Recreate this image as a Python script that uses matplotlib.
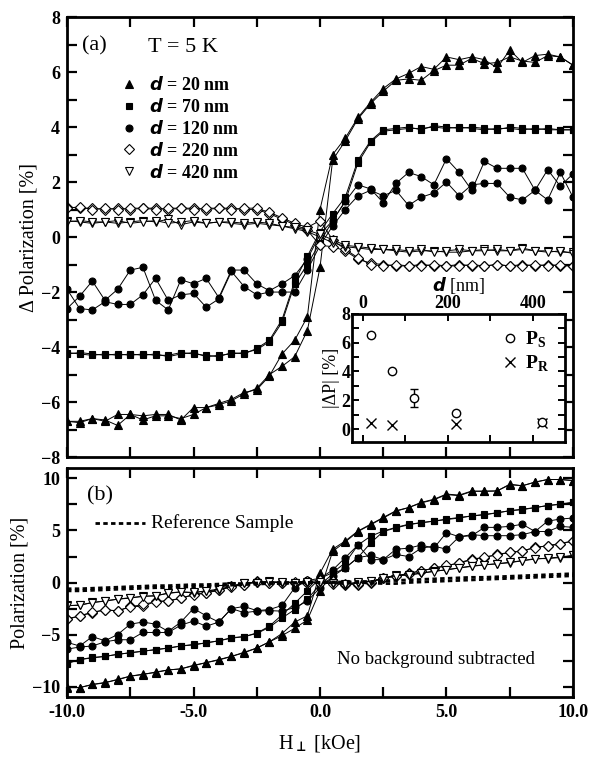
import numpy as np
import matplotlib
matplotlib.use("Agg")
import matplotlib.pyplot as plt
from matplotlib.lines import Line2D
from matplotlib.ticker import MultipleLocator

plt.rcParams['font.family'] = ['Liberation Serif', 'DejaVu Serif']
plt.rcParams['font.weight'] = 'bold'
plt.rcParams['mathtext.fontset'] = 'custom'
plt.rcParams['mathtext.rm'] = 'Liberation Serif'
plt.rcParams['mathtext.it'] = 'DejaVu Sans:italic:bold'
plt.rcParams['mathtext.bf'] = 'Liberation Serif:bold'

# field sweep, kOe (0.5 kOe steps)
field = np.arange(-10, 10.01, 0.5)

# ---- panel (a): background-subtracted loops, two sweep branches each
a20_up = [-6.7, -6.7, -6.6, -6.7, -6.45, -6.45, -6.65, -6.5, -6.5, -6.6, -6.45, -6.2, -6.1, -5.95, -5.7, -5.5, -5.0, -4.7, -4.35, -3.4, -1.1,
          2.8, 3.5, 4.3, 4.85, 5.3, 5.7, 5.75, 5.7, 6.05, 6.25, 6.25, 6.5, 6.3, 6.35, 6.55, 6.4, 6.35, 6.6, 6.55, 6.25]
a20_dn = [-6.7, -6.75, -6.6, -6.65, -6.85, -6.45, -6.5, -6.45, -6.45, -6.65, -6.2, -6.2, -6.05, -5.9, -5.65, -5.55, -5.05, -4.25, -3.75, -2.9, 1.0,
          3.0, 3.6, 4.35, 4.9, 5.4, 5.75, 5.95, 6.2, 6.1, 6.55, 6.45, 6.55, 6.45, 6.15, 6.8, 6.35, 6.6, 6.65, 6.55, 6.25]
a70_up = [-4.2, -4.25, -4.3, -4.25, -4.3, -4.25, -4.3, -4.25, -4.35, -4.25, -4.2, -4.35, -4.3, -4.25, -4.2, -4.1, -3.8, -3.1, -1.7, -1.0, -0.2,
          0.6, 1.3, 2.7, 3.45, 3.85, 3.9, 3.95, 3.95, 4.0, 3.95, 4.0, 3.95, 3.9, 3.95, 3.95, 3.9, 3.95, 3.9, 3.9, 3.9]
a70_dn = [-4.25, -4.2, -4.25, -4.3, -4.25, -4.3, -4.25, -4.3, -4.3, -4.2, -4.25, -4.3, -4.35, -4.2, -4.25, -4.05, -3.75, -3.0, -1.6, -0.7, 0.2,
          0.85, 1.45, 2.8, 3.5, 3.9, 3.95, 4.0, 3.9, 4.05, 4.0, 3.95, 4.0, 3.95, 3.9, 4.0, 3.95, 3.9, 3.95, 3.9, 3.9]
a120_up = [-1.9, -2.6, -2.65, -2.35, -2.45, -2.45, -2.1, -1.5, -2.3, -2.1, -2.05, -2.55, -2.25, -1.25, -1.8, -2.1, -2.0, -2.0, -2.0, -1.2, -0.3,
           0.4, 1.0, 1.5, 1.7, 1.5, 1.7, 1.15, 1.45, 1.6, 2.0, 1.5, 1.9, 1.95, 1.95, 1.45, 1.35, 1.7, 1.35, 2.35, 1.45]
a120_dn = [-2.6, -2.15, -1.6, -2.3, -1.9, -1.2, -1.1, -2.3, -2.65, -1.55, -1.7, -1.5, -2.2, -1.2, -1.2, -1.7, -1.95, -1.7, -1.4, -0.8, 0.1,
           0.6, 1.3, 1.9, 1.75, 1.25, 1.95, 2.35, 2.2, 1.9, 2.85, 2.35, 1.7, 2.75, 2.5, 2.5, 2.5, 1.7, 2.45, 1.85, 2.3]
a220_up = [1.1, 1.05, 1.05, 1.0, 1.05, 1.0, 1.05, 1.05, 1.0, 1.05, 1.05, 1.0, 1.05, 1.05, 1.0, 1.0, 0.85, 0.65, 0.45, 0.25, -0.3,
           -0.35, -0.5, -0.8, -0.95, -1.0, -1.05, -1.05, -1.0, -1.05, -1.05, -1.0, -1.05, -1.05, -1.0, -1.05, -1.0, -1.05, -1.0, -1.05, -1.05]
a220_dn = [1.05, 1.1, 1.0, 1.05, 1.0, 1.05, 1.05, 1.0, 1.05, 1.05, 1.0, 1.05, 1.05, 1.0, 1.05, 1.05, 0.9, 0.7, 0.5, 0.35, 0.6,
           -0.1, -0.45, -0.75, -1.0, -1.05, -1.0, -1.05, -1.05, -1.0, -1.05, -1.05, -1.0, -1.05, -1.0, -1.05, -1.05, -1.0, -1.05, -1.0, -1.05]
a420_up = [0.6, 0.55, 0.5, 0.55, 0.5, 0.55, 0.6, 0.55, 0.65, 0.45, 0.55, 0.5, 0.55, 0.5, 0.45, 0.5, 0.45, 0.4, 0.3, 0.2, 0.0,
           -0.2, -0.35, -0.4, -0.45, -0.45, -0.5, -0.55, -0.5, -0.5, -0.55, -0.55, -0.5, -0.45, -0.5, -0.5, -0.4, -0.5, -0.5, -0.55, -0.55]
a420_dn = [0.55, 0.6, 0.55, 0.55, 0.6, 0.5, 0.55, 0.6, 0.5, 0.55, 0.6, 0.5, 0.55, 0.55, 0.5, 0.55, 0.5, 0.4, 0.35, 0.25, 0.1,
           -0.1, -0.3, -0.35, -0.4, -0.45, -0.45, -0.5, -0.45, -0.55, -0.5, -0.45, -0.5, -0.5, -0.45, -0.5, -0.45, -0.5, -0.55, -0.5, -0.6]

# ---- panel (b): raw loops, no background subtracted
b20_up = [-10.1, -10.1, -9.8, -9.65, -9.3, -9.0, -8.85, -8.6, -8.4, -8.3, -8.0, -7.7, -7.4, -7.1, -6.7, -6.3, -5.7, -5.1, -4.4, -3.6, -0.8,
          3.0, 3.9, 4.9, 5.55, 6.2, 6.85, 7.2, 7.65, 7.95, 8.45, 8.35, 8.75, 8.8, 8.8, 9.4, 9.3, 9.65, 9.9, 9.9, 9.8]
b20_dn = [-10.0, -10.1, -9.8, -9.6, -9.35, -9.0, -8.8, -8.65, -8.4, -8.3, -7.95, -7.7, -7.45, -7.1, -6.75, -6.3, -5.7, -4.9, -3.8, -3.2, 0.9,
          3.2, 4.0, 4.95, 5.6, 6.25, 6.9, 7.2, 7.7, 8.0, 8.5, 8.4, 8.8, 8.75, 8.8, 9.45, 9.3, 9.65, 9.9, 9.9, 9.8]
b70_up = [-7.7, -7.4, -7.25, -7.1, -6.9, -6.75, -6.6, -6.45, -6.3, -6.1, -5.95, -5.8, -5.6, -5.35, -5.2, -4.9, -4.3, -3.4, -2.6, -1.6, -0.2,
          0.8, 1.4, 2.4, 3.8, 4.9, 5.25, 5.55, 5.75, 5.9, 6.05, 6.2, 6.4, 6.5, 6.7, 6.9, 7.0, 7.2, 7.4, 7.5, 7.7]
b70_dn = [-7.8, -7.4, -7.2, -7.1, -6.9, -6.75, -6.6, -6.45, -6.3, -6.1, -6.0, -5.8, -5.6, -5.3, -5.2, -4.85, -4.2, -3.1, -2.0, -0.8, 0.4,
          0.95, 1.9, 3.6, 4.45, 4.95, 5.3, 5.6, 5.75, 5.9, 6.1, 6.25, 6.4, 6.55, 6.7, 6.9, 7.05, 7.2, 7.4, 7.55, 7.7]
b120_up = [-6.4, -6.2, -6.1, -5.7, -5.5, -5.5, -4.8, -4.8, -4.8, -4.1, -3.7, -4.2, -3.8, -2.5, -2.9, -2.75, -2.7, -2.75, -2.4, -1.8, -0.5,
           0.6, 1.4, 2.4, 2.6, 2.2, 2.7, 2.5, 3.3, 3.5, 3.2, 4.4, 4.6, 4.5, 4.5, 4.5, 4.6, 4.9, 4.9, 5.4, 5.3]
b120_dn = [-5.75, -6.1, -5.2, -5.6, -5.0, -4.0, -3.8, -4.0, -4.7, -3.8, -2.5, -3.2, -3.8, -2.5, -2.3, -2.7, -2.6, -2.2, -0.5, 0.2, 0.4,
           1.2, 2.4, 3.6, 2.2, 2.2, 3.2, 3.3, 3.6, 3.3, 4.8, 4.4, 4.5, 5.3, 5.3, 5.4, 5.6, 4.9, 5.9, 6.1, 6.2]
b220_up = [-3.55, -3.2, -2.9, -2.6, -2.75, -2.3, -2.3, -1.8, -1.8, -1.5, -1.15, -1.0, -0.7, -0.35, -0.2, 0.1, 0.0, 0.0, 0.0, 0.0, 0.0,
           -0.1, -0.2, -0.2, 0.0, 0.45, 0.6, 0.9, 1.1, 1.4, 1.6, 1.9, 2.25, 2.4, 2.7, 2.9, 3.0, 3.4, 3.5, 3.7, 4.0]
b220_dn = [-3.5, -3.2, -2.85, -2.65, -2.7, -2.35, -2.1, -1.85, -1.75, -1.5, -1.2, -1.0, -0.75, -0.4, -0.2, 0.05, 0.0, 0.0, 0.05, 0.1, 0.2,
           0.1, -0.1, -0.15, 0.05, 0.4, 0.65, 0.85, 1.15, 1.35, 1.65, 1.85, 2.2, 2.45, 2.65, 2.9, 3.05, 3.35, 3.55, 3.75, 4.0]
b420_up = [-2.2, -2.2, -1.9, -1.8, -1.6, -1.5, -1.3, -1.3, -1.0, -0.9, -1.0, -0.8, -0.7, -0.35, 0.0, 0.0, 0.1, 0.0, 0.0, 0.0, -0.05,
           -0.1, -0.2, 0.0, 0.1, 0.45, 0.7, 0.7, 0.9, 1.1, 1.2, 1.4, 1.6, 1.7, 1.8, 1.9, 2.1, 2.3, 2.3, 2.4, 2.6]
b420_dn = [-2.25, -2.15, -1.95, -1.75, -1.6, -1.45, -1.35, -1.25, -1.05, -0.9, -0.95, -0.8, -0.65, -0.4, -0.05, 0.0, 0.05, 0.05, 0.0, 0.05, 0.05,
           0.0, -0.15, 0.05, 0.1, 0.4, 0.65, 0.75, 0.9, 1.05, 1.25, 1.4, 1.55, 1.7, 1.8, 1.95, 2.1, 2.25, 2.35, 2.45, 2.6]
ref_up = [-0.8, -0.8, -0.75, -0.7, -0.65, -0.6, -0.55, -0.5, -0.5, -0.45, -0.4, -0.35, -0.3, -0.25, -0.2, -0.15, -0.1, -0.1, -0.05, 0.0, 0.0,
          0.0, 0.0, 0.0, -0.05, -0.1, -0.1, 0.0, 0.05, 0.1, 0.15, 0.2, 0.25, 0.3, 0.35, 0.4, 0.45, 0.5, 0.55, 0.6, 0.65]
ref_dn = [-0.6, -0.6, -0.55, -0.5, -0.45, -0.4, -0.35, -0.3, -0.3, -0.25, -0.2, -0.2, -0.15, -0.1, -0.1, -0.05, 0.0, 0.0, 0.0, 0.0, 0.0,
          0.05, 0.05, 0.1, 0.1, 0.15, 0.2, 0.25, 0.3, 0.35, 0.4, 0.45, 0.5, 0.5, 0.55, 0.6, 0.65, 0.7, 0.75, 0.8, 0.85]

# ---- inset: |dP| vs thickness
d_ps = [20, 70, 120, 220, 420]
ps = [6.55, 4.0, 2.15, 1.1, 0.5]
ps_err = [0, 0, 0.6, 0, 0]
d_pr = [20, 70, 220, 420]
pr = [0.45, 0.28, 0.32, 0.45]

labels = ['20', '70', '120', '220', '420']
markers = ['^', 's', 'o', 'D', 'v']
fills = ['k', 'k', 'k', 'white', 'white']
msizes = [5.5, 4.2, 5.0, 5.0, 5.5]

set_a = [(a20_up, a20_dn), (a70_up, a70_dn), (a120_up, a120_dn), (a220_up, a220_dn), (a420_up, a420_dn)]
set_b = [(b20_up, b20_dn), (b70_up, b70_dn), (b120_up, b120_dn), (b220_up, b220_dn), (b420_up, b420_dn)]

fig = plt.figure(figsize=(5.89, 7.58), dpi=100)
ax_a = fig.add_axes([0.1138, 0.397, 0.859, 0.5805])
ax_b = fig.add_axes([0.1138, 0.0805, 0.859, 0.302])
ax_in = fig.add_axes([0.5976, 0.4169, 0.3616, 0.169])

def draw_loops(ax, sets):
    for (up, dn), m, fc, ms in zip(sets, markers, fills, msizes):
        for br in (up, dn):
            ax.plot(field, br, color='k', lw=0.7, marker=m, ms=ms, mfc=fc, mec='k', mew=0.8)

def style(ax, minor_y):
    ax.set_xlim(-10, 10)
    ax.xaxis.set_major_locator(MultipleLocator(5))
    ax.xaxis.set_minor_locator(MultipleLocator(2.5))
    ax.yaxis.set_minor_locator(MultipleLocator(minor_y))
    ax.tick_params(which='both', direction='in', top=True, right=True, width=1.6, length=7, labelsize=13, pad=5)
    for s in ax.spines.values():
        s.set_linewidth(2.0)

draw_loops(ax_a, set_a)
ax_a.set_ylim(-8, 8)
ax_a.yaxis.set_major_locator(MultipleLocator(2))
style(ax_a, 1)
ax_a.tick_params(labelbottom=False)
ax_a.set_ylabel('Δ Polarization [%]', fontsize=14.5, fontweight='normal', labelpad=2)
ax_a.text(0.03, 0.935, '(a)', transform=ax_a.transAxes, fontsize=16, fontweight='normal', va='center')
ax_a.text(0.16, 0.93, 'T = 5 K', transform=ax_a.transAxes, fontsize=16, fontweight='normal', va='center')

handles = [Line2D([], [], ls='none', color='k', marker=m, ms=ms, mfc=fc, mew=0.8)
           for m, fc, ms in zip(markers, fills, msizes)]
ax_a.legend(handles, [r'$d$ = ' + l + ' nm' for l in labels], loc='upper left',
            bbox_to_anchor=(0.08, 0.895), frameon=False, fontsize=13, handlelength=1.0,
            handletextpad=0.6, labelspacing=0.22, borderpad=0.2)

draw_loops(ax_b, set_b)
for br in (ref_up, ref_dn):
    ax_b.plot(field, br, color='k', lw=2.0, dashes=(1.6, 1.2))
ax_b.set_ylim(-11, 11)
ax_b.yaxis.set_major_locator(MultipleLocator(5))
style(ax_b, 2.5)
ax_b.set_xticks([-10, -5, 0, 5, 10])
ax_b.set_xticklabels(['-10.0', '-5.0', '0.0', '5.0', '10.0'])
ax_b.set_ylabel('Polarization [%]', fontsize=14.5, fontweight='normal', labelpad=2)
ax_b.set_xlabel(r'H$_{\bot}$ [kOe]', fontsize=14.5, fontweight='normal', labelpad=9,
                math_fontfamily='stix')
ax_b.text(0.04, 0.88, '(b)', transform=ax_b.transAxes, fontsize=16, fontweight='normal', va='center')
ax_b.plot([0.055, 0.155], [0.76, 0.76], transform=ax_b.transAxes, color='k', lw=2.0, dashes=(1.6, 1.2))
ax_b.text(0.165, 0.76, 'Reference Sample', transform=ax_b.transAxes, fontsize=14, fontweight='normal', va='center')
ax_b.text(0.73, 0.165, 'No background subtracted', transform=ax_b.transAxes, fontsize=13.5, fontweight='normal',
          va='center', ha='center')

# inset
ax_in.errorbar(d_ps, ps, yerr=ps_err, ls='none', marker='o', ms=6, mfc='white', mec='k', mew=1.0,
               ecolor='k', elinewidth=1.0, capsize=3)
ax_in.plot(d_pr, pr, ls='none', marker='x', ms=7, color='k', mew=1.0)
ax_in.set_xlim(-25, 475)
ax_in.set_ylim(-0.9, 8)
ax_in.xaxis.set_major_locator(MultipleLocator(200))
ax_in.xaxis.set_minor_locator(MultipleLocator(100))
ax_in.yaxis.set_major_locator(MultipleLocator(2))
ax_in.yaxis.set_minor_locator(MultipleLocator(1))
ax_in.xaxis.tick_top()
ax_in.xaxis.set_label_position('top')
ax_in.tick_params(which='both', direction='in', top=True, bottom=True, left=True, right=True,
                  width=1.4, length=5, labelsize=13, pad=1)
for s in ax_in.spines.values():
    s.set_linewidth(2.0)
ax_in.set_xlabel(r'$d$ [nm]', fontsize=13, labelpad=3)
ax_in.set_ylabel('|ΔP| [%]', fontsize=13, fontweight='normal', labelpad=1)
in_handles = [Line2D([], [], ls='none', marker='o', ms=6, mfc='white', mec='k', mew=1.0),
              Line2D([], [], ls='none', marker='x', ms=7, color='k', mew=1.0)]
ax_in.legend(in_handles, [r'P$_\mathbf{S}$', r'P$_\mathbf{R}$'], loc='upper right', frameon=False,
             fontsize=14, handlelength=0.8, handletextpad=0.4, labelspacing=0.2, borderpad=0.3)

fig.savefig('out.png', dpi=100)
